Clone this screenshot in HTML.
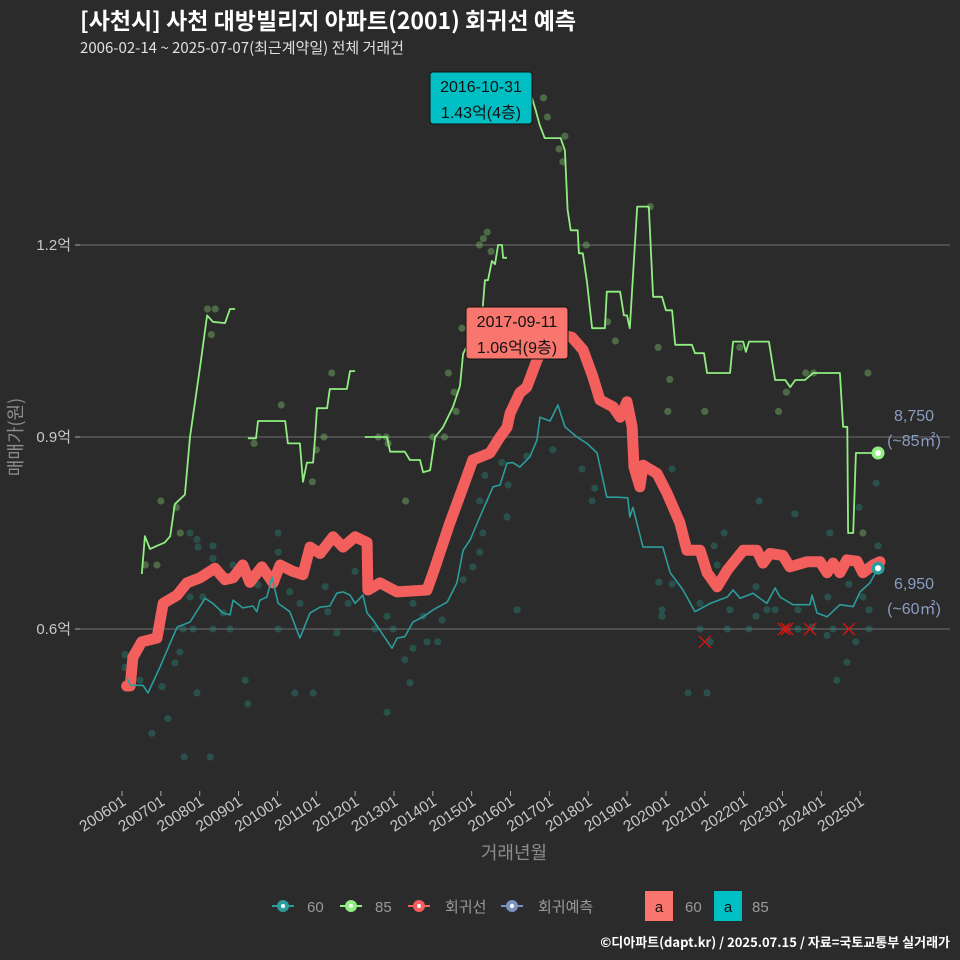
<!DOCTYPE html>
<html><head><meta charset="utf-8">
<style>
html,body{margin:0;padding:0;background:#2b2b2b;}
svg{display:block;font-family:"Liberation Sans","Noto Sans CJK KR",sans-serif;}
</style></head>
<body>
<svg id="chart" width="960" height="960" viewBox="0 0 960 960" xmlns="http://www.w3.org/2000/svg">
<rect width="960" height="960" fill="#2b2b2b"/>
<text x="80" y="29" fill="#ffffff" font-size="23" font-weight="bold" font-family="'Noto Sans CJK KR',sans-serif">[사천시] 사천 대방빌리지 아파트(2001) 회귀선 예측</text>
<text x="80" y="53" fill="#e0e0e0" font-size="15" font-family="'Noto Sans CJK KR',sans-serif">2006-02-14 ~ 2025-07-07(최근계약일) 전체 거래건</text>
<g id="grid"></g>
<g id="dots"></g>
<g id="lines"></g>
<g id="axes"></g>
<text x="0" y="0" transform="translate(22,437) rotate(-90)" text-anchor="middle" fill="#8c8c8c" font-size="18" font-family="'Noto Sans CJK KR',sans-serif">매매가(원)</text>
<text x="514" y="859" text-anchor="middle" fill="#8c8c8c" font-size="18" font-family="'Noto Sans CJK KR',sans-serif">거래년월</text>

<g>
<rect x="430" y="72" width="102" height="52" rx="3" fill="#00bfc4" stroke="#111" stroke-width="1"/>
<text x="481" y="92" text-anchor="middle" font-size="16" fill="#111">2016-10-31</text>
<text x="481" y="118" text-anchor="middle" font-size="16" fill="#111" font-family="'Liberation Sans','Noto Sans CJK KR',sans-serif">1.43억(4층)</text>
</g>
<g>
<rect x="466" y="307" width="102" height="52" rx="3" fill="#f8766d" stroke="#111" stroke-width="1"/>
<text x="517" y="327" text-anchor="middle" font-size="16" fill="#111">2017-09-11</text>
<text x="517" y="353" text-anchor="middle" font-size="16" fill="#111" font-family="'Liberation Sans','Noto Sans CJK KR',sans-serif">1.06억(9층)</text>
</g>
<g fill="#8a9cc0" font-size="16" text-anchor="middle">
<text x="914" y="421">8,750</text>
<text x="914" y="446">(~85㎡)</text>
<text x="914" y="589">6,950</text>
<text x="914" y="614">(~60㎡)</text>
</g>

<g id="legend" font-size="15" fill="#9a9a9a" font-family="'Liberation Sans','Noto Sans CJK KR',sans-serif">
<g>
<line x1="272" y1="906" x2="294" y2="906" stroke="#2c9c9c" stroke-width="2"/><circle cx="283" cy="906" r="6" fill="#2c9c9c"/><circle cx="283" cy="906" r="2" fill="#fff"/>
<text x="307" y="912">60</text></g>
<g>
<line x1="340" y1="906" x2="362" y2="906" stroke="#90ee80" stroke-width="2"/><circle cx="351" cy="906" r="6" fill="#90ee80"/><circle cx="351" cy="906" r="2" fill="#fff"/>
<text x="375" y="912">85</text></g>
<g>
<line x1="408" y1="906" x2="430" y2="906" stroke="#f25f5c" stroke-width="2"/><circle cx="419" cy="906" r="6" fill="#f25f5c"/><circle cx="419" cy="906" r="2" fill="#fff"/>
<text x="445" y="912">회귀선</text></g>
<g>
<line x1="501" y1="906" x2="523" y2="906" stroke="#7b93c0" stroke-width="2"/><circle cx="512" cy="906" r="6" fill="#7b93c0"/><circle cx="512" cy="906" r="2" fill="#fff"/>
<text x="538" y="912">회귀예측</text></g>
<g>
<rect x="645" y="891" width="28" height="30" fill="#f8766d"/><text x="659" y="912" text-anchor="middle" fill="#111">a</text>
<text x="685" y="912">60</text></g>
<g>
<rect x="714" y="891" width="28" height="30" fill="#00bfc4"/><text x="728" y="912" text-anchor="middle" fill="#111">a</text>
<text x="752" y="912">85</text></g>
</g>
<text x="950" y="947" text-anchor="end" fill="#ffffff" font-size="13" font-weight="bold" font-family="'Noto Sans CJK KR',sans-serif">©디아파트(dapt.kr) / 2025.07.15 / 자료=국토교통부 실거래가</text>
</svg>
<script>
const yTicks=[0.6,0.9,1.2];
const yTickLabels=["0.6억","0.9억","1.2억"];
const xTickYears=[2006,2007,2008,2009,2010,2011,2012,2013,2014,2015,2016,2017,2018,2019,2020,2021,2022,2023,2024,2025];
const xTickLabels=["200601","200701","200801","200901","201001","201101","201201","201301","201401","201501","201601","201701","201801","201901","202001","202101","202201","202301","202401","202501"];

const green85Segments=[
[[2006.51,0.686],[2006.59,0.745],[2006.72,0.725],[2006.9,0.73],[2007.1,0.735],[2007.24,0.745],[2007.36,0.795],[2007.62,0.81],[2007.75,0.90],[2008.01,1.01],[2008.19,1.09],[2008.34,1.08],[2008.65,1.078],[2008.78,1.10],[2008.91,1.10]],
[[2009.24,0.898],[2009.45,0.898],[2009.5,0.925],[2010.2,0.925],[2010.27,0.89],[2010.58,0.89],[2010.66,0.83],[2010.76,0.86],[2010.92,0.86],[2010.97,0.90],[2011.02,0.945],[2011.28,0.945],[2011.35,0.975],[2011.79,0.975],[2011.87,1.003],[2012.0,1.003]],
[[2012.25,0.9],[2012.82,0.9],[2012.9,0.877],[2013.28,0.877],[2013.41,0.864],[2013.67,0.864],[2013.75,0.845],[2013.93,0.848],[2014.06,0.90],[2014.26,0.915],[2014.52,0.947],[2014.7,0.98],[2014.78,1.03],[2015.27,1.09],[2015.34,1.145],[2015.42,1.145],[2015.52,1.175],[2015.6,1.17],[2015.68,1.2],[2015.78,1.2],[2015.81,1.18],[2015.91,1.18]],
[[2016.55,1.43],[2016.65,1.41],[2016.75,1.388],[2016.88,1.367],[2017.29,1.367],[2017.4,1.348],[2017.47,1.255],[2017.55,1.223],[2017.73,1.223],[2017.76,1.187],[2017.86,1.187],[2017.97,1.142],[2018.1,1.07],[2018.43,1.07],[2018.48,1.127],[2018.82,1.127],[2018.92,1.09],[2019.0,1.09],[2019.07,1.07],[2019.26,1.26],[2019.56,1.26],[2019.67,1.119],[2019.9,1.119],[2020.0,1.098],[2020.16,1.098],[2020.24,1.044],[2020.67,1.044],[2020.75,1.031],[2020.98,1.031],[2021.06,1.0],[2021.65,1.0],[2021.73,1.049],[2021.99,1.049],[2022.06,1.033],[2022.14,1.049],[2022.65,1.049],[2022.81,0.989],[2023.07,0.989],[2023.2,0.978],[2023.33,0.989],[2023.58,0.989],[2023.79,1.0],[2024.48,1.0],[2024.56,0.916],[2024.67,0.916],[2024.69,0.75],[2024.82,0.75],[2024.89,0.875],[2025.46,0.875]]
];

const regressionLine=[[2006.12,0.511],[2006.21,0.511],[2006.28,0.556],[2006.51,0.58],[2006.9,0.586],[2007.06,0.64],[2007.42,0.653],[2007.67,0.672],[2008.01,0.68],[2008.39,0.695],[2008.65,0.677],[2008.86,0.68],[2009.11,0.70],[2009.29,0.673],[2009.6,0.697],[2009.89,0.672],[2010.07,0.70],[2010.4,0.69],[2010.66,0.685],[2010.84,0.728],[2011.1,0.718],[2011.43,0.744],[2011.69,0.728],[2012.0,0.744],[2012.31,0.735],[2012.33,0.661],[2012.64,0.672],[2013.08,0.658],[2013.85,0.661],[2014.01,0.688],[2014.44,0.766],[2014.78,0.822],[2015.03,0.864],[2015.47,0.875],[2015.73,0.9],[2015.91,0.915],[2015.99,0.937],[2016.24,0.969],[2016.42,0.978],[2016.68,1.02],[2016.94,1.05],[2017.27,1.06],[2017.58,1.056],[2017.87,1.036],[2018.12,0.994],[2018.3,0.958],[2018.64,0.947],[2018.82,0.931],[2019.0,0.955],[2019.13,0.916],[2019.18,0.853],[2019.33,0.822],[2019.41,0.856],[2019.77,0.843],[2020.03,0.812],[2020.36,0.766],[2020.54,0.723],[2020.88,0.723],[2021.06,0.688],[2021.32,0.666],[2021.58,0.692],[2021.99,0.723],[2022.34,0.723],[2022.5,0.703],[2022.68,0.718],[2023.01,0.715],[2023.19,0.697],[2023.63,0.705],[2023.97,0.705],[2024.15,0.688],[2024.3,0.703],[2024.48,0.688],[2024.66,0.708],[2024.92,0.706],[2025.07,0.688],[2025.33,0.70],[2025.51,0.705]];

const teal60Line=[[2006.13,0.524],[2006.21,0.512],[2006.54,0.512],[2006.67,0.5],[2006.98,0.541],[2007.24,0.578],[2007.42,0.603],[2007.75,0.611],[2008.14,0.648],[2008.34,0.64],[2008.6,0.625],[2008.78,0.622],[2008.86,0.645],[2009.11,0.633],[2009.37,0.636],[2009.47,0.627],[2009.55,0.645],[2009.73,0.65],[2009.86,0.681],[2010.02,0.64],[2010.32,0.627],[2010.58,0.586],[2010.84,0.625],[2011.1,0.634],[2011.35,0.636],[2011.53,0.656],[2011.69,0.658],[2011.87,0.653],[2012.0,0.64],[2012.2,0.653],[2012.31,0.625],[2012.46,0.614],[2012.95,0.57],[2013.08,0.586],[2013.28,0.588],[2013.49,0.611],[2013.75,0.619],[2014.01,0.63],[2014.37,0.642],[2014.62,0.672],[2014.78,0.723],[2014.96,0.739],[2015.21,0.775],[2015.55,0.822],[2015.73,0.825],[2015.91,0.859],[2016.06,0.86],[2016.24,0.853],[2016.5,0.869],[2016.68,0.895],[2016.76,0.931],[2017.02,0.925],[2017.22,0.95],[2017.4,0.916],[2017.71,0.9],[2017.97,0.89],[2018.23,0.875],[2018.48,0.806],[2018.74,0.806],[2019.02,0.805],[2019.07,0.775],[2019.15,0.79],[2019.41,0.728],[2019.92,0.728],[2020.11,0.688],[2020.44,0.661],[2020.75,0.627],[2021.14,0.64],[2021.58,0.65],[2021.73,0.661],[2021.91,0.648],[2022.24,0.656],[2022.6,0.64],[2022.81,0.664],[2022.94,0.65],[2023.27,0.638],[2023.71,0.638],[2023.76,0.653],[2023.89,0.625],[2024.15,0.619],[2024.48,0.638],[2024.82,0.635],[2025.0,0.658],[2025.25,0.672],[2025.46,0.695]];

const teal60Dots=[[2006.77,0.437],[2007.18,0.46],[2007.6,0.40],[2008.27,0.40],[2007.93,0.50],[2009.24,0.483],[2009.17,0.52],[2010.45,0.50],[2010.92,0.50],[2012.82,0.47],[2013.41,0.516],[2013.28,0.552],[2013.49,0.57],[2013.85,0.58],[2014.13,0.58],[2014.24,0.614],[2013.49,0.64],[2013.75,0.62],[2012.98,0.60],[2012.51,0.60],[2012.82,0.62],[2011.53,0.594],[2012.0,0.69],[2011.82,0.64],[2011.23,0.666],[2011.3,0.627],[2010.58,0.64],[2010.32,0.658],[2010.02,0.75],[2010.02,0.72],[2010.02,0.60],[2008.78,0.60],[2008.34,0.60],[2007.83,0.60],[2007.57,0.60],[2007.49,0.564],[2007.36,0.547],[2007.03,0.51],[2006.46,0.52],[2006.08,0.56],[2006.08,0.54],[2007.75,0.75],[2007.93,0.74],[2007.96,0.728],[2008.34,0.73],[2007.75,0.65],[2008.08,0.65],[2008.34,0.71],[2008.6,0.625],[2008.86,0.70],[2009.5,0.669],[2014.78,0.677],[2015.03,0.697],[2015.21,0.72],[2015.29,0.75],[2015.21,0.80],[2015.34,0.84],[2015.91,0.775],[2015.94,0.825],[2016.17,0.63],[2015.78,0.86],[2017.09,0.88],[2016.42,0.87],[2017.84,0.85],[2020.16,0.85],[2018.17,0.82],[2018.1,0.80],[2022.4,0.80],[2023.32,0.78],[2024.22,0.75],[2021.5,0.75],[2021.24,0.73],[2021.32,0.70],[2025.46,0.73],[2024.97,0.79],[2025.41,0.828],[2019.82,0.673],[2020.16,0.67],[2019.9,0.63],[2019.9,0.62],[2020.88,0.64],[2020.88,0.60],[2021.14,0.58],[2020.57,0.50],[2021.06,0.50],[2021.58,0.60],[2021.65,0.63],[2022.14,0.60],[2022.32,0.62],[2022.32,0.666],[2022.6,0.63],[2022.81,0.63],[2023.09,0.60],[2023.4,0.60],[2023.4,0.63],[2023.76,0.603],[2024.17,0.65],[2024.15,0.59],[2024.3,0.60],[2024.4,0.52],[2024.66,0.548],[2024.89,0.58],[2024.71,0.67],[2025.07,0.65],[2025.23,0.63],[2025.23,0.60]];

const green85Dots=[[2007.0,0.80],[2006.9,0.70],[2006.6,0.70],[2007.4,0.79],[2007.5,0.75],[2008.2,1.10],[2008.4,1.10],[2008.3,1.06],[2010.1,0.95],[2010.9,0.83],[2011.4,1.0],[2011.2,0.90],[2011.0,0.88],[2012.6,0.90],[2012.8,0.90],[2012.85,0.89],[2014.0,0.90],[2014.3,0.90],[2014.4,1.00],[2014.55,0.97],[2014.6,0.94],[2014.75,1.07],[2015.3,1.21],[2015.4,1.22],[2015.2,1.20],[2015.5,1.19],[2016.85,1.43],[2016.95,1.40],[2017.25,1.35],[2017.35,1.33],[2017.4,1.37],[2017.95,1.20],[2018.5,1.08],[2018.7,1.05],[2019.6,1.26],[2019.8,1.04],[2020.1,0.99],[2020.05,0.94],[2021.0,0.94],[2021.9,1.04],[2022.9,0.94],[2023.1,0.97],[2023.6,1.0],[2023.8,1.0],[2025.2,1.0],[2025.07,0.75],[2013.3,0.80],[2009.4,0.89]];

const cancelledMarks=[[2021.0,0.58],[2023.04,0.60],[2023.12,0.60],[2023.71,0.60],[2024.71,0.60]];
const endPoint60=[2025.46,0.695];
const endPoint85=[2025.46,0.875];

const NS="http://www.w3.org/2000/svg";
function xs(t){return 122+(t-2006)*38.85;}
function ys(v){return 629-(v-0.6)*640;}
function mk(tag,attrs,parent){const e=document.createElementNS(NS,tag);for(const k in attrs)e.setAttribute(k,attrs[k]);parent.appendChild(e);return e;}
const grid=document.getElementById('grid'),axes=document.getElementById('axes'),dots=document.getElementById('dots'),lines=document.getElementById('lines');

yTicks.forEach((v,i)=>{
  const g=mk('line',{x1:80,x2:950,y1:ys(v),y2:ys(v),stroke:'#6e6e6e','stroke-width':1},grid);
  
  
  const tk=mk('line',{x1:75,x2:80,y1:ys(v),y2:ys(v),stroke:'#aaa','stroke-width':1},axes);
  
  
  const t=mk('text',{x:71,y:ys(v)+5,'text-anchor':'end',fill:'#c8c8c8','font-size':15,'font-family':"'Liberation Sans','Noto Sans CJK KR',sans-serif"},axes);
  t.textContent=yTickLabels[i];
  
  
});
xTickYears.forEach((yr,i)=>{
  const x=xs(yr);
  const tk=mk('line',{x1:x,x2:x,y1:791,y2:796,stroke:'#aaa','stroke-width':1},axes);
  
  
  const t=mk('text',{x:0,y:0,transform:`translate(${x+5},${804}) rotate(-33)`,'text-anchor':'end',fill:'#c8c8c8','font-size':15.5},axes);
  t.textContent=xTickLabels[i];
  
  
});

teal60Dots.forEach(d=>{
  const c=mk('circle',{cx:xs(d[0]),cy:ys(d[1]),r:3.6,fill:'#2a8a80','fill-opacity':0.4},dots);
  
  
});
green85Dots.forEach(d=>{
  const c=mk('circle',{cx:xs(d[0]),cy:ys(d[1]),r:3.6,fill:'#6fa860','fill-opacity':0.5},dots);
  
  
});
function path(pts){return pts.map((p,i)=>(i?'L':'M')+xs(p[0]).toFixed(1)+','+ys(p[1]).toFixed(1)).join(' ');}
green85Segments.forEach(seg=>{
  const p=mk('path',{d:path(seg),fill:'none',stroke:'#90ee80','stroke-width':1.8,'stroke-linejoin':'round'},lines);
  
  
});
const rl=mk('path',{d:path(regressionLine),fill:'none',stroke:'#f25f5c','stroke-width':11,'stroke-linejoin':'round','stroke-linecap':'round'},lines);


const tl=mk('path',{d:path(teal60Line),fill:'none',stroke:'#2c9c9c','stroke-width':1.6,'stroke-linejoin':'round'},lines);


cancelledMarks.forEach(d=>{
  const x=xs(d[0]),y=ys(d[1]);
  const p=mk('path',{d:`M${x-6},${y-6}L${x+6},${y+6}M${x-6},${y+6}L${x+6},${y-6}`,stroke:'#e01010','stroke-width':1.3,fill:'none'},lines);
  
  
});
[[endPoint85,'#90ee80','end-point-85'],[endPoint60,'#2c9c9c','end-point-60']].forEach(e=>{
  const c=mk('circle',{cx:xs(e[0][0]),cy:ys(e[0][1]),r:6.5,fill:e[1]},lines);
  
  
  const c2=mk('circle',{cx:xs(e[0][0]),cy:ys(e[0][1]),r:3,fill:'#fff'},lines);
  
  
});
</script>
</body></html>
